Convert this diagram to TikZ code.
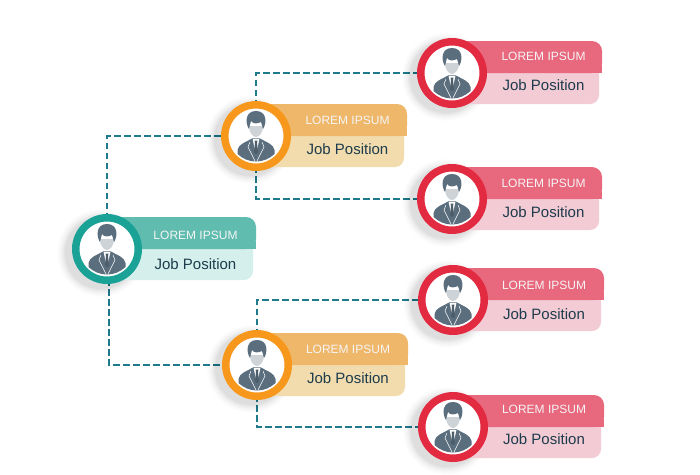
\documentclass[tikz,border=0pt]{standalone}
\usepackage{fontspec}
\setmainfont{Liberation Sans}
\usetikzlibrary{calc}
\definecolor{tealR}{HTML}{1AA297}\definecolor{tealH}{HTML}{5FBCAE}\definecolor{tealL}{HTML}{D5F0EC}
\definecolor{orR}{HTML}{F7981D}\definecolor{orH}{HTML}{EFB769}\definecolor{orL}{HTML}{F2DCAE}
\definecolor{redR}{HTML}{E22B40}\definecolor{redH}{HTML}{E8687E}\definecolor{redL}{HTML}{F3CBD4}
\definecolor{iconC}{HTML}{5A6E7E}\definecolor{txtC}{HTML}{1D3C4C}\definecolor{lineC}{HTML}{1F7A8C}
\tikzset{
 ring/.style={circle,draw=#1,line width=7.5pt,fill=white,minimum size=62.5pt,inner sep=0pt},
 headlabel/.style={text=white!92!gray,font=\fontsize{12}{14}\selectfont,inner sep=0pt},
 joblabel/.style={text=txtC,font=\fontsize{15}{17}\selectfont,inner sep=0pt},
 link/.style={draw=lineC,line width=2.3pt,dash pattern=on 6.5pt off 3.5pt},
}
% #1 name, #2 x, #3 y, #4 colour stem, #5 right edge, #6 label x, #7 lorem y, #8 job y
\newcommand{\personcard}[8]{%
 \begin{scope}[shift={(#2,#3)}]
  \foreach \r/\o in {44/.007,43/.008,42/.01,41/.011,40/.013,39/.015,38/.018,37/.021,36/.024}{\fill[black,opacity=\o] (-6,4) circle (\r);}
  \fill[#4L,rounded corners=9pt] (0,-10) -- (#5-3,-10) -- (#5-3,31) -- (0,31) -- cycle;
  \fill[#4H,rounded corners=10pt] (0,0) -- (0,-32) -- (#5,-32) -- (#5,0) [sharp corners] -- cycle;
  \fill[#4H] (#5-12,-8) rectangle (#5,0);
 \end{scope}
 \node[ring=#4R] (#1) at (#2,#3) {};
 \node[headlabel] (#1h) at (#6,#7) {LOREM IPSUM};
 \node[joblabel] (#1j) at (#6,#8) {Job Position};
 \begin{scope}[shift={(#2,#3)}]
  % suit
  \fill[iconC] (-18.5,18) -- (-18.5,14) .. controls (-17,8) and (-12,7) .. (-3,2) -- (3,2) .. controls (12,7) and (17,8) .. (18.5,14) -- (18.5,18) .. controls (13,23) and (7,25.5) .. (0,25.5) .. controls (-7,25.5) and (-13,23) .. (-18.5,18) -- cycle;
  \fill[white] (-3.5,2.5) -- (3.5,2.5) -- (0,19) -- cycle;
  \fill[iconC!85!black] (-1.5,4.5) -- (1.5,4.5) -- (1,7) -- (2,16) -- (0,19) -- (-2,16) -- (-1,7) -- cycle;
  \draw[white,line width=.5pt] (-6,6) -- (-8,11) -- (-1,25) (6,6) -- (8,11) -- (1,25);
  % head
  \fill[iconC!30!white] (-7,-10) .. controls (-7,-3) and (-3,1) .. (0,1) .. controls (3,1) and (7,-3) .. (7,-10) -- cycle;
  \fill[iconC] (-7,-7) .. controls (-11,-13) and (-11,-25) .. (0,-25) .. controls (11,-25) and (11,-13) .. (7,-7) .. controls (6.5,-9) and (6,-11) .. (5,-14) .. controls (1,-12) and (-3,-12) .. (-5,-15) .. controls (-6,-12) and (-6.5,-9) .. (-7,-7) -- cycle;
 \end{scope}
}
\begin{document}
\begin{tikzpicture}[x=1pt,y=-1pt]
\useasboundingbox (0,0) rectangle (700,474);
\fill[white] (0,0) rectangle (700,474);
\path (107,249) node (a0) {} (256,136) node (a1) {} (257,365) node (a2) {} (452,73) node (a3) {} (452,199) node (a4) {} (453,300) node (a5) {} (453,427) node (a6) {};
\draw[link] (a0.center) |- (a1.center);
\draw[link] (a0.center) ++(2,0) |- (a2.center);
\draw[link] (a1.center) |- (a3.center);
\draw[link] (a1.center) |- (a4.center);
\draw[link] (a2.center) |- (a5.center);
\draw[link] (a2.center) |- (a6.center);
\personcard{teal}{107}{249}{teal}{149}{195.5}{235}{264}
\personcard{orangeA}{256}{136}{or}{151}{347.5}{120}{149.5}
\personcard{orangeB}{257}{365}{or}{151}{348}{349}{378}
\personcard{redA}{452}{73}{red}{150}{543.5}{56}{85}
\personcard{redB}{452}{199}{red}{150}{543.5}{183}{212.5}
\personcard{redC}{453}{300}{red}{151}{544}{285}{314}
\personcard{redD}{453}{427}{red}{151}{544}{409}{439}
\end{tikzpicture}
\end{document}
